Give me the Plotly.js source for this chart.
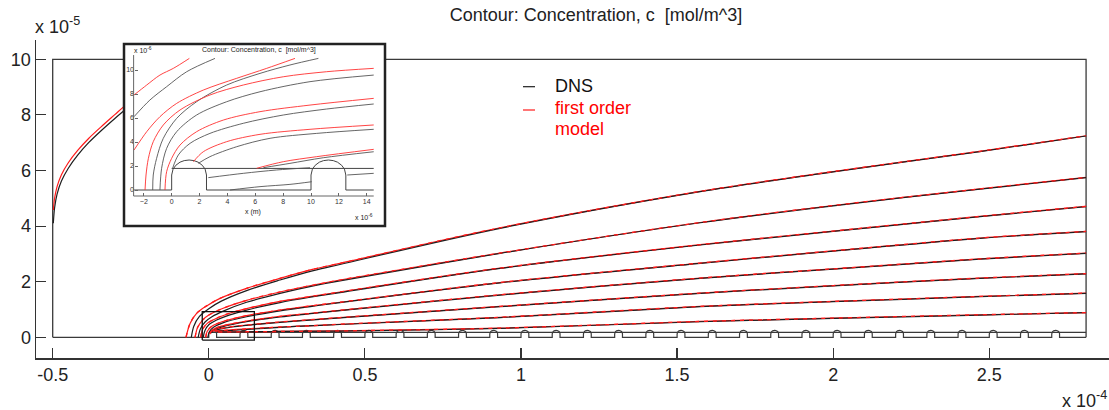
<!DOCTYPE html>
<html><head><meta charset="utf-8">
<script src="https://cdn.plot.ly/plotly-3.0.1.min.js"></script>
<style>html,body{margin:0;padding:0;background:#fff}#chart{width:1109px;height:410px}</style>
</head><body><div id="chart"></div>
<script>
// ---------- MAIN VIEW: x in units of 1e-4 m, y in units of 1e-5 m ----------
const xTickVals = [-0.5, 0, 0.5, 1, 1.5, 2, 2.5];
const xTickText = ['-0.5', '0', '0.5', '1', '1.5', '2', '2.5'];
const yTickVals = [0, 2, 4, 6, 8, 10];
const yTickText = ['0', '2', '4', '6', '8', '10'];

// computational domain outline (left, top, right edges)
const domainX = [-0.5, -0.5, 2.81, 2.81];
const domainY = [0, 10, 10, 0];

// wall geometry, in units of 1e-6 m
const domeStarts = [0,10,20,30,40,50,60,70,80,90,100,110,120,130,140,150,160,170,180,190,200,210,220,230,240,250,260,270];
const domeProfileX = [0, 0, 0.1, 0.3, 0.6, 0.9, 1.25, 1.6, 1.9, 2.2, 2.4, 2.5, 2.5];
const domeProfileY = [0, 1.25, 1.74, 2.06, 2.32, 2.45, 2.5, 2.45, 2.32, 2.06, 1.74, 1.25, 0];
const mainWallRange = [-50, 281];
const insetWallRange = [-2.7, 14.5];
const interfaceX = [0, 281];
const interfaceY = [1.8, 1.8];

// contour levels (main view). index 0 = outermost
const modelX = [
  [-0.073,-0.060,-0.039,-0.007,0.036,0.121,0.228,0.335,0.42,0.933,1.574,2.0,2.47,2.81],
  [-0.044,-0.036,-0.020,0.0,0.040,0.121,0.228,0.335,0.42,0.933,1.574,2.0,2.47,2.81],
  [-0.026,-0.020,-0.005,0.020,0.060,0.121,0.228,0.335,0.42,0.933,1.574,2.0,2.47,2.81],
  [-0.010,-0.005,0.010,0.040,0.121,0.228,0.335,0.42,0.933,1.574,2.0,2.47,2.81],
  [0.003,0.012,0.040,0.121,0.228,0.335,0.42,0.933,1.574,2.0,2.47,2.81],
  [0.012,0.030,0.070,0.121,0.228,0.335,0.42,0.933,1.574,2.0,2.47,2.81],
  [0.020,0.050,0.121,0.228,0.335,0.42,0.933,1.574,2.0,2.47,2.81],
  [0.030,0.121,0.228,0.42,0.933,1.574,2.0,2.47,2.81]
];
const modelY = [
  [0,0.50,0.86,1.13,1.40,1.76,2.12,2.45,2.66,3.94,5.25,5.96,6.69,7.25],
  [0,0.35,0.62,0.80,1.02,1.33,1.63,1.88,2.06,3.03,4.13,4.74,5.34,5.75],
  [0,0.28,0.50,0.66,0.84,1.03,1.29,1.48,1.63,2.49,3.33,3.82,4.35,4.71],
  [0,0.22,0.40,0.55,0.78,0.98,1.14,1.26,1.97,2.67,3.11,3.57,3.81],
  [0.12,0.27,0.40,0.58,0.75,0.87,0.97,1.53,2.13,2.46,2.82,3.03],
  [0.22,0.30,0.38,0.44,0.55,0.64,0.71,1.11,1.59,1.86,2.13,2.29],
  [0.22,0.25,0.30,0.37,0.42,0.47,0.72,1.11,1.29,1.47,1.59],
  [0.19,0.20,0.21,0.23,0.33,0.57,0.69,0.81,0.89]
];
const dnsX = [
  [-0.056,-0.048,-0.030,0.0,0.040,0.121,0.228,0.335,0.42,0.933,1.574,2.0,2.47,2.81],
  [-0.034,-0.027,-0.012,0.010,0.050,0.121,0.228,0.335,0.42,0.933,1.574,2.0,2.47,2.81],
  [-0.018,-0.012,0.0,0.025,0.065,0.121,0.228,0.335,0.42,0.933,1.574,2.0,2.47,2.81],
  [-0.003,0.002,0.015,0.045,0.121,0.228,0.335,0.42,0.933,1.574,2.0,2.47,2.81],
  [0.008,0.018,0.045,0.121,0.228,0.335,0.42,0.933,1.574,2.0,2.47,2.81],
  [0.016,0.035,0.075,0.121,0.228,0.335,0.42,0.933,1.574,2.0,2.47,2.81],
  [0.025,0.121,0.228,0.335,0.42,0.933,1.574,2.0,2.47,2.81],
  [0.030,0.121,0.228,0.42,0.933,1.574,2.0,2.47,2.81]
];
const dnsY = [
  [0,0.40,0.75,1.03,1.30,1.68,2.06,2.40,2.62,3.92,5.24,5.95,6.68,7.24],
  [0,0.30,0.55,0.74,0.96,1.26,1.58,1.85,2.03,3.02,4.12,4.73,5.33,5.74],
  [0,0.25,0.45,0.62,0.80,0.98,1.25,1.46,1.61,2.48,3.32,3.81,4.34,4.70],
  [0,0.20,0.36,0.52,0.74,0.95,1.12,1.25,1.96,2.66,3.10,3.56,3.80],
  [0.15,0.27,0.38,0.56,0.73,0.86,0.96,1.52,2.12,2.45,2.81,3.02],
  [0.24,0.29,0.37,0.43,0.54,0.63,0.70,1.10,1.58,1.85,2.12,2.28],
  [0.21,0.28,0.36,0.42,0.46,0.71,1.10,1.28,1.46,1.58],
  [0.19,0.20,0.21,0.22,0.32,0.56,0.68,0.80,0.885]
];
// contour leaving through the inflow boundary (upper left)
const leftModelX = [-0.498,-0.494,-0.486,-0.472,-0.450,-0.420,-0.385,-0.345,-0.300,-0.274,-0.25];
const leftModelY = [4.58,5.00,5.42,5.85,6.28,6.72,7.15,7.57,8.02,8.28,8.51];
const leftDnsX = [-0.498,-0.494,-0.486,-0.472,-0.450,-0.420,-0.385,-0.345,-0.300,-0.274,-0.25];
const leftDnsY = [4.10,4.65,5.15,5.62,6.08,6.55,7.00,7.43,7.88,8.13,8.36];

// zoom window marker
const zoomBoxX = [-0.021, 0.146, 0.146, -0.021, -0.021];
const zoomBoxY = [-0.10, -0.10, 0.92, 0.92, -0.10];

// ---------- INSET: x and y in units of 1e-6 m ----------
const insetXTicks = [-2, 0, 2, 4, 6, 8, 10, 12, 14];
const insetYTicks = [0, 2, 4, 6, 8, 10];
const insetModelX = [
  [-2.70,-1.79,-0.84,0.12,1.27],
  [-2.70,-1.79,-0.84,0.36,2.27,4.67,6.82,8.85],
  [-1.91,-1.84,-1.67,-1.32,-0.60,0.60,2.75,5.14,8.01,11.12,14.50],
  [-0.48,-0.36,0.0,0.60,1.79,3.71,6.34,9.93,14.50],
  [1.56,2.27,3.95,6.34,9.93,14.50],
  [6.10,8.01,10.41,14.50]
];
const insetModelY = [
  [7.92,8.75,9.58,10.14,10.97],
  [3.33,4.86,6.11,7.22,8.33,9.31,10.14,10.97],
  [0,1.25,2.64,4.03,5.42,6.67,7.92,8.75,9.44,9.86,10.14],
  [0,1.53,2.64,3.75,4.86,5.83,6.53,7.08,7.64],
  [2.36,3.19,4.03,4.64,5.06,5.42],
  [1.81,2.36,2.78,3.39]
];
const insetDnsX = [
  [-2.70,-1.56,-0.36,1.08,3.11],
  [-1.36,-1.32,-1.08,-0.60,0.36,1.79,3.95,6.34,8.49,10.53],
  [-0.84,-0.72,-0.36,0.36,1.79,3.95,6.34,9.93,14.50],
  [0.07,0.48,1.32,2.75,5.14,8.01,11.12,14.50],
  [1.91,2.75,4.67,7.06,10.41,14.50],
  [6.58,8.49,10.88,14.50],
  [2.63,5.14,7.54,9.93],
  [12.60,14.50],
  [4.19,6.34,8.49,10.05]
];
const insetDnsY = [
  [6.11,7.50,8.61,9.86,10.97],
  [0,1.25,2.64,4.31,5.97,7.36,8.75,9.72,10.42,10.97],
  [0,1.81,3.47,4.86,6.25,7.36,8.19,9.03,9.58],
  [1.81,2.92,3.89,4.72,5.56,6.25,6.75,7.17],
  [2.22,2.78,3.61,4.31,4.72,5.06],
  [1.86,2.22,2.69,3.19],
  [1.03,1.39,1.67,1.86],
  [1.25,1.39],
  [0,0.28,0.47,0.69]
];

// ---------- build ----------
const FONT = 'Liberation Sans, Arial, Helvetica, sans-serif';
const RED = '#ff1a1a', BLK = '#1e1e1e', WALL = '#3a3a3a';

function wallPath(range, sx, sy) {
  const xs = [range[0] * sx], ys = [0];
  domeStarts.filter(d => d >= range[0] && d + 2.5 <= range[1]).forEach(d => {
    domeProfileX.forEach((p, i) => { xs.push((d + p) * sx); ys.push(domeProfileY[i] * sy); });
  });
  xs.push(range[1] * sx); ys.push(0);
  return {xs, ys};
}
function line(x, y, color, width, opts) {
  opts = opts || {};
  return {type:'scatter', mode:'lines', x, y, xaxis:opts.xa||'x', yaxis:opts.ya||'y',
    line:{color, width, dash:opts.dash||'solid', shape:opts.smooth?'spline':'linear', smoothing:opts.smooth||0},
    hoverinfo:'skip', showlegend:false};
}

const traces = [];
traces.push(line(domainX, domainY, WALL, 1.3));
const mw = wallPath(mainWallRange, 0.01, 0.1);
traces.push(line(mw.xs, mw.ys, WALL, 1.2));
traces.push(line(interfaceX.map(v => v * 0.01), interfaceY.map(v => v * 0.1), WALL, 1.2));
for (let i = 0; i < modelX.length; i++) {
  traces.push(line(modelX[i], modelY[i], RED, 1.2, {smooth:0.9}));
  traces.push(line(dnsX[i], dnsY[i], BLK, 1.2, {smooth:0.9}));
  traces.push(line(modelX[i], modelY[i], RED, 1.3, {smooth:0.9, dash:'4px,5px'}));
}
traces.push(line(leftModelX, leftModelY, RED, 1.2, {smooth:0.9}));
traces.push(line(leftDnsX, leftDnsY, BLK, 1.2, {smooth:0.9}));
traces.push(line(zoomBoxX, zoomBoxY, '#111', 1.3));

// inset
const iw = wallPath(insetWallRange, 1, 1);
traces.push(line(iw.xs, iw.ys, '#444', 1, {xa:'x2', ya:'y2'}));
traces.push(line([0, insetWallRange[1]], interfaceY, '#444', 1, {xa:'x2', ya:'y2'}));
for (let i = 0; i < insetDnsX.length; i++) traces.push(line(insetDnsX[i], insetDnsY[i], '#555', 0.9, {xa:'x2', ya:'y2', smooth:0.9}));
for (let i = 0; i < insetModelX.length; i++) traces.push(line(insetModelX[i], insetModelY[i], '#ff3030', 0.9, {xa:'x2', ya:'y2', smooth:0.9}));

const W = 1109, H = 410;
const px = v => v / W, py = v => (H - v) / H;

const layout = {
  width: W, height: H, margin:{l:0, r:0, t:0, b:0},
  paper_bgcolor:'#fff', plot_bgcolor:'#fff', showlegend:false,
  font:{family:FONT, color:'#222'},
  title:{text:'Contour: Concentration, c&nbsp; [mol/m^3]', x:px(596), xanchor:'center', y:py(15), yanchor:'middle',
    font:{family:FONT, size:18, color:'#222'}},
  xaxis:{domain:[px(36), 1], range:[-0.5535, 2.8834], tickmode:'array', tickvals:xTickVals, ticktext:xTickText,
    ticks:'inside', ticklen:10, tickwidth:1.2, tickcolor:'#333', showline:true, linecolor:'#333', linewidth:1.5,
    showgrid:false, zeroline:false, tickfont:{size:18, color:'#222'}, fixedrange:true},
  yaxis:{domain:[(H-358)/H, (H-40)/H], range:[-0.7446, 10.694], tickmode:'array', tickvals:yTickVals, ticktext:yTickText,
    ticks:'inside', ticklen:10, tickwidth:1.2, tickcolor:'#333', showline:true, linecolor:'#333', linewidth:1.5,
    showgrid:false, zeroline:false, tickfont:{size:18, color:'#222'}, fixedrange:true},
  xaxis2:{domain:[px(124), px(385)], range:[-3.42, 15.31], anchor:'free', position:(H-196)/H,
    tickmode:'array', tickvals:insetXTicks, ticks:'inside', ticklen:3, tickcolor:'#666',
    showline:false, showgrid:false, zeroline:false, tickfont:{size:7, color:'#333'}, fixedrange:true},
  yaxis2:{domain:[(H-226)/H, (H-44)/H], range:[-3.0, 12.17], anchor:'free', position:px(134),
    tickmode:'array', tickvals:insetYTicks, ticks:'inside', ticklen:3, tickcolor:'#666',
    showline:false, showgrid:false, zeroline:false, tickfont:{size:7, color:'#333'}, fixedrange:true},
  shapes:[
    {type:'line', xref:'x2', yref:'y2', x0:-2.73, x1:-2.73, y0:-0.5, y1:11.25, line:{color:'#666', width:1}, layer:'above'},
    {type:'line', xref:'x2', yref:'y2', x0:-2.73, x1:14.5, y0:-0.5, y1:-0.5, line:{color:'#666', width:1}, layer:'above'},
    {type:'rect', xref:'paper', yref:'paper', x0:px(124), x1:px(385), y0:py(226), y1:py(44), line:{color:'#222', width:2.5}, fillcolor:'rgba(0,0,0,0)', layer:'above'},
    {type:'line', xref:'paper', yref:'paper', x0:px(523), x1:px(535), y0:py(86.7), y1:py(86.7), line:{color:BLK, width:1.2}},
    {type:'line', xref:'paper', yref:'paper', x0:px(523), x1:px(535), y0:py(110), y1:py(110), line:{color:RED, width:1.2}}
  ],
  annotations:[
    {text:'x 10<sup>-5</sup>', xref:'paper', yref:'paper', x:px(33), y:py(26), xanchor:'left', yanchor:'middle', showarrow:false, font:{size:18, color:'#222'}},
    {text:'x 10<sup>-4</sup>', xref:'paper', yref:'paper', x:px(1109), y:py(399), xanchor:'right', yanchor:'middle', showarrow:false, font:{size:18, color:'#222'}},
    {text:'DNS', xref:'paper', yref:'paper', x:px(553), y:py(86), xanchor:'left', yanchor:'middle', showarrow:false, font:{size:18, color:'#111'}},
    {text:'first order', xref:'paper', yref:'paper', x:px(553), y:py(108), xanchor:'left', yanchor:'middle', showarrow:false, font:{size:18, color:'#ff0000'}},
    {text:'model', xref:'paper', yref:'paper', x:px(553), y:py(129), xanchor:'left', yanchor:'middle', showarrow:false, font:{size:18, color:'#ff0000'}},
    {text:'Contour: Concentration, c&nbsp; [mol/m^3]', xref:'paper', yref:'paper', x:px(259), y:py(50), xanchor:'center', yanchor:'middle', showarrow:false, font:{size:7, color:'#222'}},
    {text:'x 10<sup>-6</sup>', xref:'paper', yref:'paper', x:px(132), y:py(50), xanchor:'left', yanchor:'middle', showarrow:false, font:{size:7, color:'#222'}},
    {text:'x (m)', xref:'paper', yref:'paper', x:px(253), y:py(212), xanchor:'center', yanchor:'middle', showarrow:false, font:{size:7, color:'#222'}},
    {text:'x 10<sup>-6</sup>', xref:'paper', yref:'paper', x:px(375), y:py(217), xanchor:'right', yanchor:'middle', showarrow:false, font:{size:7, color:'#222'}}
  ],
  hovermode:false
};

Plotly.newPlot('chart', traces, layout, {staticPlot:true, displayModeBar:false});
</script>
</body></html>
